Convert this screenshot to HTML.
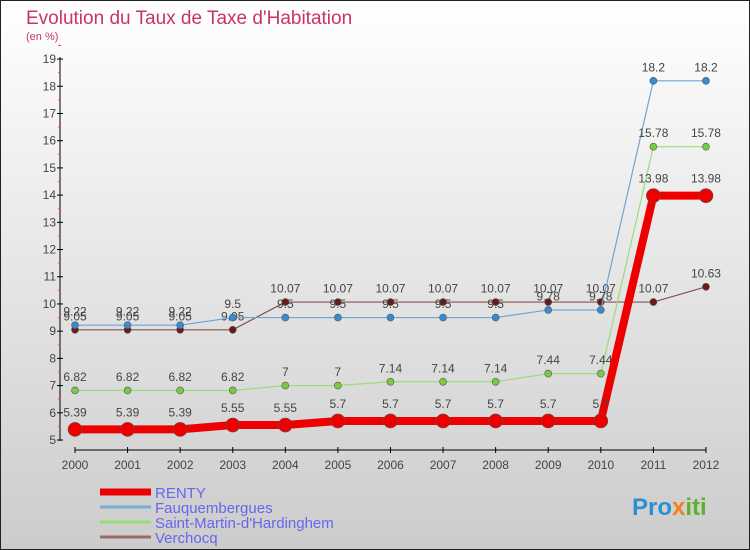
<!DOCTYPE html>
<html><head><meta charset="utf-8"><style>
body{margin:0}
#c{width:750px;height:550px;position:relative;box-sizing:border-box;border:1px solid #222;background:linear-gradient(#fff,#ccc);font-family:"Liberation Sans",sans-serif;overflow:hidden}
</style></head><body>
<div id="c">
<svg id="s" width="750" height="550" style="position:absolute;left:-1px;top:-1px">
<text x="26" y="24" font-size="19" fill="#c8365f">Evolution du Taux de Taxe d'Habitation</text>
<text x="26" y="40" font-size="11" fill="#c8365f">(en %)</text>
<text x="632" y="515" font-size="24" font-weight="bold" fill="#2a90d0">Pro<tspan fill="#f08020">x</tspan><tspan fill="#60b030">iti</tspan></text>
</svg>
</div>
<script>
const years=[2000,2001,2002,2003,2004,2005,2006,2007,2008,2009,2010,2011,2012];
const renty=[5.39,5.39,5.39,5.55,5.55,5.7,5.7,5.7,5.7,5.7,5.7,13.98,13.98];
const fauq=[9.22,9.22,9.22,9.5,9.5,9.5,9.5,9.5,9.5,9.78,9.78,18.2,18.2];
const stmartin=[6.82,6.82,6.82,6.82,7,7,7.14,7.14,7.14,7.44,7.44,15.78,15.78];
const verchocq=[9.05,9.05,9.05,9.05,10.07,10.07,10.07,10.07,10.07,10.07,10.07,10.07,10.63];
const yTicks=[5,6,7,8,9,10,11,12,13,14,15,16,17,18,19];
const names=["RENTY","Fauquembergues","Saint-Martin-d'Hardinghem","Verchocq"];
const s=document.getElementById('s');const NS='http://www.w3.org/2000/svg';
const X=i=>75+i*52.58, Y=v=>440-(v-5)*27.21;
function el(t,a,p){const e=document.createElementNS(NS,t);for(const k in a)e.setAttribute(k,a[k]);(p||s).appendChild(e);return e;}
function tx(x,y,str,a){const e=el('text',Object.assign({x:x,y:y,'font-size':12,fill:'#444'},a||{}));e.textContent=str;return e;}
// axes
let ax=el('line',{x1:60,y1:57,x2:60,y2:441,stroke:'#000'});


let bx=el('line',{x1:75,y1:450,x2:706,y2:450,stroke:'#000'});


yTicks.forEach(v=>{el('line',{x1:57,x2:63,y1:Y(v),y2:Y(v),stroke:'#000'});
 el('line',{x1:58,x2:61,y1:Y(v+0.5),y2:Y(v+0.5),stroke:'#f44'});
 const t=tx(56,Y(v)+4,String(v),{'text-anchor':'end'});
 
 });
years.forEach((y,i)=>{el('line',{x1:X(i),x2:X(i),y1:447,y2:453,stroke:'#000'});
 const t=tx(X(i),469,String(y),{'text-anchor':'middle'});
 
 });
function series(d,col,w,r,fill,name){
 const p=el('polyline',{points:d.map((v,i)=>X(i)+','+Y(v)).join(' '),fill:'none',stroke:col,'stroke-width':w,'stroke-linejoin':'round'});
 
 
 d.forEach((v,i)=>{const c=el('circle',{cx:X(i),cy:Y(v),r:r,fill:fill,stroke:'#555','stroke-width':0.6});
  
  
  const t=tx(X(i),Y(v)-(r+6),String(v),{'text-anchor':'middle'});
  
  });
}
series(verchocq,'#8a5050',1.2,3.5,'#6b1a1a','verchocq');
series(fauq,'#6aa6d8',1.2,3.5,'#3a8ad0','fauquembergues');
series(stmartin,'#99dd77',1.2,3.5,'#77cc44','saint-martin');
series(renty,'#ee0000',8,7,'#ee0000','renty');
// legend
const lc=['#ee0000','#7aaed0','#99dd77','#9a6a6a'],lw=[7,3,3,3];
names.forEach((n,i)=>{const y=492+i*15;
 const l=el('line',{x1:100,x2:151,y1:y,y2:y,stroke:lc[i],'stroke-width':lw[i]});
 
 
 const t=tx(155,y+6,n,{'font-size':15,fill:'#6666ee'});
 
 });
</script>
</body></html>
